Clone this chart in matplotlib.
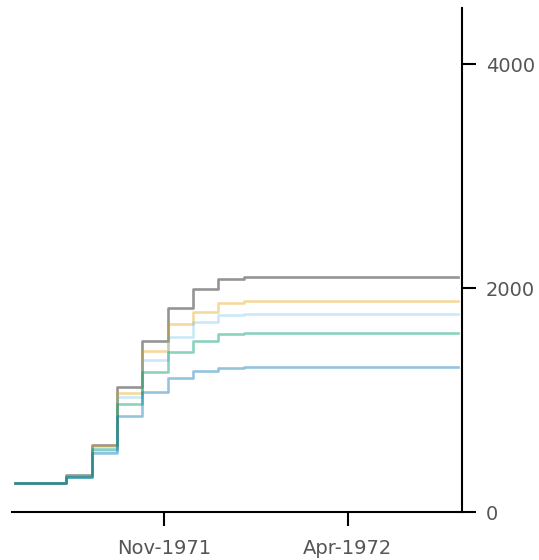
import matplotlib
matplotlib.use("Agg")
import matplotlib.pyplot as plt
import matplotlib.dates as mdates
import numpy as np
from datetime import datetime

# step dates (3-weekly) and cumulative totals per series
dates = [datetime(1971, 7, 1), datetime(1971, 8, 12), datetime(1971, 9, 2),
         datetime(1971, 9, 23), datetime(1971, 10, 14), datetime(1971, 11, 4),
         datetime(1971, 11, 25), datetime(1971, 12, 16), datetime(1972, 1, 6),
         datetime(1972, 7, 1)]

gray_vals = [257, 330, 600, 1120, 1524, 1825, 1990, 2080, 2100, 2100]
orange_vals = [257, 318, 590, 1060, 1434, 1680, 1790, 1870, 1880, 1880]
skyblue_vals = [257, 312, 545, 1025, 1360, 1565, 1695, 1760, 1768, 1768]
green_vals = [257, 316, 565, 965, 1250, 1430, 1523, 1590, 1602, 1602]
blue_vals = [257, 310, 530, 855, 1068, 1195, 1255, 1285, 1295, 1295]

series = [
    (gray_vals, "#000000", 0.42),
    (orange_vals, "#E69F00", 0.38),
    (skyblue_vals, "#56B4E9", 0.3),
    (green_vals, "#009E73", 0.45),
    (blue_vals, "#0072B2", 0.42),
]

xticks = [datetime(1971, 11, 1), datetime(1972, 4, 1)]
yticks = [0, 2000, 4000]

fig = plt.figure(figsize=(5.39, 5.6), dpi=100)
ax = fig.add_axes([0.022, 0.0857, 0.836, 0.9])

for vals, col, a in series:
    ax.step(dates, vals, where="post", color=col, alpha=a, linewidth=1.9)

ax.set_xlim(datetime(1971, 6, 28), datetime(1972, 7, 5))
ax.set_ylim(0, 4500)

ax.set_xticks(xticks)
ax.xaxis.set_major_formatter(mdates.DateFormatter("%b-%Y"))
ax.set_yticks(yticks)
ax.yaxis.tick_right()

for s in ["left", "top"]:
    ax.spines[s].set_visible(False)
for s in ["bottom", "right"]:
    ax.spines[s].set_linewidth(1.5)

ax.tick_params(length=10, width=1.5, pad=7, labelsize=14, labelcolor="#555555")
ax.tick_params(axis="x", pad=9.5)

fig.savefig("out.png", dpi=100)
